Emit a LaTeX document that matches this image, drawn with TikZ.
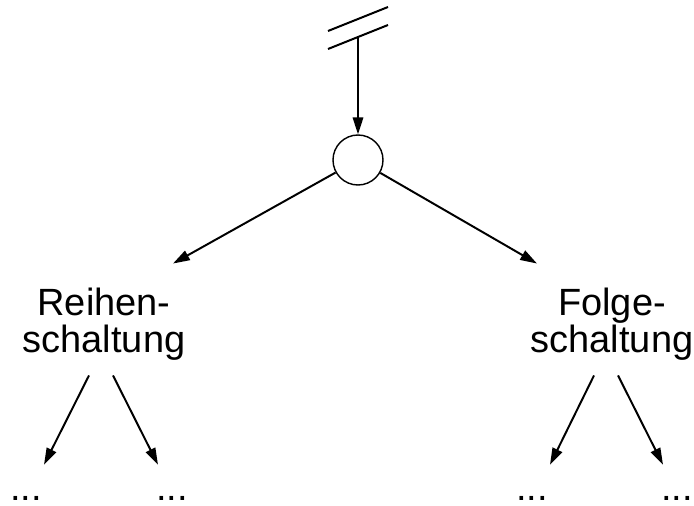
\documentclass[tikz,border=0pt]{standalone}
\usepackage{fontspec}
\setmainfont{Liberation Sans}
\usepackage{tikz}
\usetikzlibrary{arrows.meta,positioning}

\begin{document}
\begin{tikzpicture}[
  font=\fontsize{27}{26.3}\selectfont, >={Triangle[length=0.42cm, width=0.26cm]},
  knot/.style={draw, circle, minimum size=1.25cm, inner sep=0pt, line width=1pt},
  kind/.style={align=center, inner sep=0pt},
  more/.style={inner sep=0pt, anchor=base},
  arr/.style={->, line width=1.4pt},
  cut/.style={line width=1.4pt},
]
\useasboundingbox (0,0) rectangle (17.35,-12.65);
% top
\draw[cut] (8.2,-0.775) -- (9.7,-0.175);
\draw[cut] (8.2,-1.225) -- (9.7,-0.625);
\coordinate (in) at (8.95,-0.925);
\node[knot] (c) at (8.95,-4.0) {};
% row 2
\node[kind] (reihe) at (2.6,-8.1) {Reihen-\\schaltung};
\node[kind] (folge) at (15.3,-8.1) {Folge-\\schaltung};
% row 3
\node[more] (d1) at (0.65,-12.52) {...};
\node[more] (d2) at (4.3,-12.52) {...};
\node[more] (d3) at (13.3,-12.52) {...};
\node[more] (d4) at (16.925,-12.52) {...};
% arrows
\draw[arr] (in) -- (c);
\draw[arr] (c) -- ([xshift=1.725cm, yshift=0.6cm]reihe.north);
\draw[arr] (c) -- ([xshift=-1.875cm, yshift=0.6cm]folge.north);
\draw[arr] ([xshift=-0.375cm, yshift=-0.375cm]reihe.south) -- ([xshift=0.45cm, yshift=0.9cm]d1.base);
\draw[arr] ([xshift=0.225cm, yshift=-0.375cm]reihe.south) -- ([xshift=-0.35cm, yshift=0.9cm]d2.base);
\draw[arr] ([xshift=-0.45cm, yshift=-0.375cm]folge.south) -- ([xshift=0.45cm, yshift=0.9cm]d3.base);
\draw[arr] ([xshift=0.15cm, yshift=-0.375cm]folge.south) -- ([xshift=-0.35cm, yshift=0.9cm]d4.base);
\end{tikzpicture}
\end{document}
